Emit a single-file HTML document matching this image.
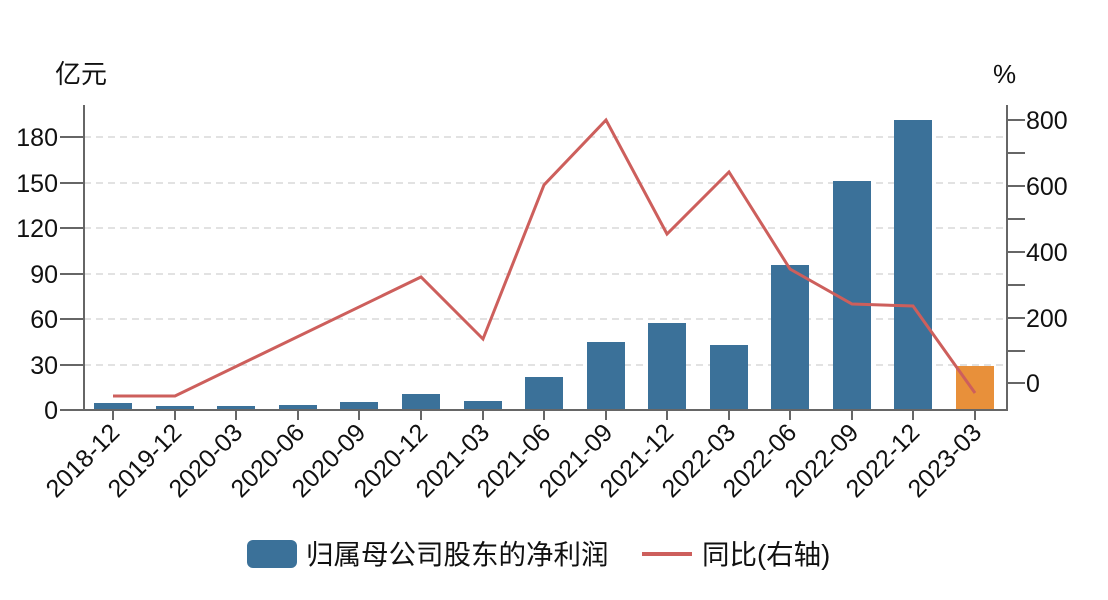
<!DOCTYPE html>
<html><head><meta charset="utf-8"><style>body{margin:0;background:#fff}svg{display:block;font-family:"Liberation Sans","Noto Sans CJK SC",sans-serif}</style></head><body>
<svg width="1108" height="600" viewBox="0 0 1108 600">
<g stroke="#d9d9d9" stroke-width="1.5" stroke-dasharray="7,5">
<line x1="84" x2="1006" y1="137" y2="137"/><line x1="84" x2="1006" y1="183" y2="183"/><line x1="84" x2="1006" y1="228" y2="228"/><line x1="84" x2="1006" y1="274" y2="274"/><line x1="84" x2="1006" y1="319" y2="319"/><line x1="84" x2="1006" y1="365" y2="365"/>
</g>
<g fill="#3b7199">
<rect x="94" y="403" width="38" height="7"/><rect x="156" y="406" width="38" height="4"/><rect x="217" y="406" width="38" height="4"/><rect x="279" y="405" width="38" height="5"/><rect x="340" y="402" width="38" height="8"/><rect x="402" y="394" width="38" height="16"/><rect x="464" y="401" width="38" height="9"/><rect x="525" y="377" width="38" height="33"/><rect x="587" y="342" width="38" height="68"/><rect x="648" y="323" width="38" height="87"/><rect x="710" y="345" width="38" height="65"/><rect x="771" y="265" width="38" height="145"/><rect x="833" y="181" width="38" height="229"/><rect x="894" y="120" width="38" height="290"/>
</g>
<rect x="956" y="366" width="38" height="44" fill="#e8903a"/>
<polyline fill="none" stroke="#cd5f5c" stroke-width="3" points="113,396 175,396 421,277 483,339 544,185 606,120 667,234 729,172 790,269 852,304 913,306 975,393"/>
<g stroke="#666" stroke-width="2" fill="none">
<line x1="84" y1="105" x2="84" y2="411"/><line x1="1007" y1="105" x2="1007" y2="411"/><line x1="83" y1="410" x2="1008" y2="410"/>
<path d="M60 137H84M60 183H84M60 228H84M60 274H84M60 319H84M60 365H84M60 410H84"/>
<path d="M1007 120H1025M1007 153H1025M1007 186H1025M1007 219H1025M1007 252H1025M1007 285H1025M1007 318H1025M1007 351H1025M1007 383H1025"/>
<path d="M113 410v10M175 410v10M236 410v10M298 410v10M359 410v10M421 410v10M483 410v10M544 410v10M606 410v10M667 410v10M729 410v10M790 410v10M852 410v10M913 410v10M975 410v10"/>
</g>
<g font-size="25" fill="#111" text-anchor="end">
<text x="58" y="146">180</text><text x="58" y="192">150</text><text x="58" y="237">120</text><text x="58" y="283">90</text><text x="58" y="328">60</text><text x="58" y="374">30</text><text x="58" y="419">0</text>
</g>
<g font-size="25" fill="#111">
<text x="1026" y="129">800</text><text x="1026" y="195">600</text><text x="1026" y="261">400</text><text x="1026" y="327">200</text><text x="1026" y="392">0</text>
<text x="55" y="83" font-size="26">亿元</text><text x="993" y="83" font-size="26">%</text>
</g>
<g font-size="25" fill="#111" text-anchor="end">
<text transform="translate(121,434) rotate(-45)">2018-12</text><text transform="translate(183,434) rotate(-45)">2019-12</text><text transform="translate(244,434) rotate(-45)">2020-03</text><text transform="translate(306,434) rotate(-45)">2020-06</text><text transform="translate(367,434) rotate(-45)">2020-09</text><text transform="translate(429,434) rotate(-45)">2020-12</text><text transform="translate(491,434) rotate(-45)">2021-03</text><text transform="translate(552,434) rotate(-45)">2021-06</text><text transform="translate(614,434) rotate(-45)">2021-09</text><text transform="translate(675,434) rotate(-45)">2021-12</text><text transform="translate(737,434) rotate(-45)">2022-03</text><text transform="translate(798,434) rotate(-45)">2022-06</text><text transform="translate(860,434) rotate(-45)">2022-09</text><text transform="translate(921,434) rotate(-45)">2022-12</text><text transform="translate(983,434) rotate(-45)">2023-03</text>
</g>
<rect x="247" y="540" width="50" height="28" rx="6" fill="#3b7199"/>
<text x="306" y="564" font-size="27.5" fill="#111">归属母公司股东的净利润</text>
<line x1="642" y1="554" x2="692" y2="554" stroke="#cd5f5c" stroke-width="4"/>
<text x="702" y="564" font-size="27.5" fill="#111">同比(右轴)</text>
</svg>
</body></html>
